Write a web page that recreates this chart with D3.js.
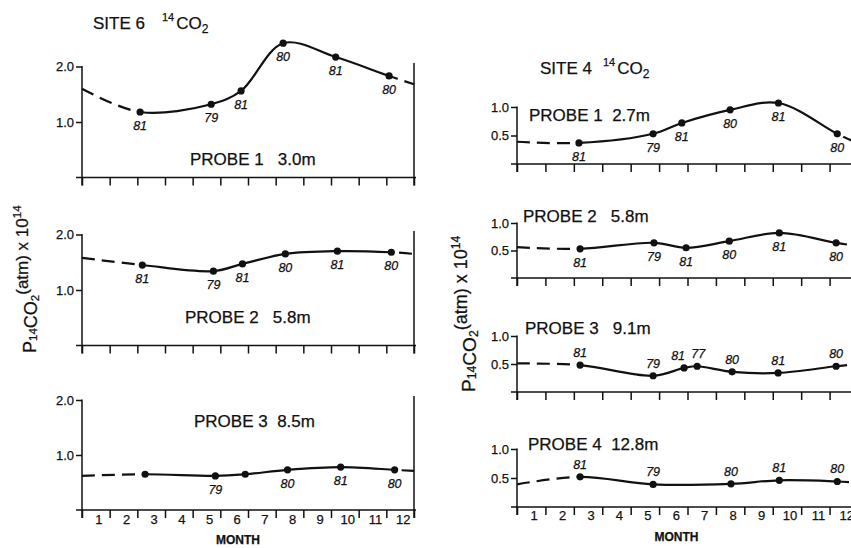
<!DOCTYPE html>
<html>
<head>
<meta charset="utf-8">
<script src="https://cdn.jsdelivr.net/npm/d3@7"></script>
<style>
  html, body { margin: 0; padding: 0; background: #fff; }
  svg { display: block; }
  text { font-family: "Liberation Sans", Arial, Helvetica, sans-serif; fill: #111; stroke: #111; stroke-width: 0.25px; }
</style>
</head>
<body>
<svg id="chart" width="851" height="548"></svg>
<script>
// ---------------- DATA ----------------
const months = ["1","2","3","4","5","6","7","8","9","10","11","12"];

// SITE 6 (month position, 0 = start of January, 12 = end of December)
const s6p1Month = [2.1, 4.67, 5.75, 7.27, 9.17, 11.1];
const s6p1Value = [1.18, 1.32, 1.56, 2.42, 2.17, 1.83];
const s6p1Year  = ["81", "79", "81", "80", "81", "80"];
const s6p1Ends  = [1.60, 1.68];

const s6p2Month = [2.18, 4.75, 5.8, 7.35, 9.23, 11.18];
const s6p2Value = [1.45, 1.34, 1.47, 1.65, 1.70, 1.68];
const s6p2Year  = ["81", "79", "81", "80", "81", "80"];
const s6p2Ends  = [1.58, 1.65];

const s6p3Month = [2.28, 4.82, 5.9, 7.43, 9.35, 11.3];
const s6p3Value = [0.65, 0.62, 0.65, 0.73, 0.78, 0.73];
const s6p3Year  = ["", "79", "", "80", "81", "80"];
const s6p3Ends  = [0.62, 0.71];

// SITE 4
const s4p1Month = [2.18, 4.79, 5.8, 7.5, 9.2, 11.27];
const s4p1Value = [0.37, 0.53, 0.72, 0.95, 1.07, 0.53];
const s4p1Year  = ["81", "79", "81", "80", "81", "80"];
const s4p1Ends  = [0.39, 0.36];

const s4p2Month = [2.22, 4.82, 5.95, 7.47, 9.23, 11.23];
const s4p2Value = [0.53, 0.64, 0.55, 0.67, 0.82, 0.64];
const s4p2Year  = ["81", "79", "81", "80", "81", "80"];
const s4p2Ends  = [0.56, 0.58];

const s4p3Month = [2.22, 4.79, 5.88, 6.34, 7.57, 9.19, 11.23];
const s4p3Value = [0.48, 0.29, 0.43, 0.46, 0.36, 0.34, 0.46];
const s4p3Year  = ["81", "79", "81", "77", "80", "81", "80"];
const s4p3Ends  = [0.51, 0.50];

const s4p4Month = [2.22, 4.79, 7.53, 9.23, 11.27];
const s4p4Value = [0.52, 0.39, 0.40, 0.46, 0.44];
const s4p4Year  = ["81", "79", "80", "81", "80"];
const s4p4Ends  = [0.39, 0.42];

const site6Ticks = [1.0, 2.0];
const site4Ticks = [0.5, 1.0];
const site6TickLabels = ["1.0", "2.0"];
const site4TickLabels = ["0.5", "1.0"];

const probeNames = {
  s6p1: "PROBE 1   3.0m", s6p2: "PROBE 2   5.8m", s6p3: "PROBE 3  8.5m",
  s4p1: "PROBE 1  2.7m", s4p2: "PROBE 2   5.8m", s4p3: "PROBE 3   9.1m", s4p4: "PROBE 4  12.8m"
};

// ---------------- LAYOUT ----------------
const svg = d3.select("#chart");
const defs = svg.append("defs");

const left  = { x0: 82, x1: 414, rightAxis: true };
const right = { x0: 517, x1: 858, rightAxis: false };

const panels = [
  { id: "s6p1", col: left, m: s6p1Month, v: s6p1Value, yr: s6p1Year, ends: s6p1Ends, ymax: 2, ticks: site6Ticks, tl: site6TickLabels,
    y0: 177.5, y1: 66.5, labPos: "below", probe: [190, 165], rTop: 63, months: false },
  { id: "s6p2", col: left, m: s6p2Month, v: s6p2Value, yr: s6p2Year, ends: s6p2Ends, ymax: 2, ticks: site6Ticks, tl: site6TickLabels,
    y0: 345.5, y1: 234.5, labPos: "below", probe: [185, 323], rTop: 231, months: false },
  { id: "s6p3", col: left, m: s6p3Month, v: s6p3Value, yr: s6p3Year, ends: s6p3Ends, ymax: 2, ticks: site6Ticks, tl: site6TickLabels,
    y0: 510, y1: 400, labPos: "below", probe: [194, 427], rTop: 396, months: true, monthY: 524, monthTitleY: 544 },
  { id: "s4p1", col: right, m: s4p1Month, v: s4p1Value, yr: s4p1Year, ends: s4p1Ends, ymax: 1, ticks: site4Ticks, tl: site4TickLabels,
    y0: 164, y1: 107, labPos: "below", probe: [529, 121], months: false },
  { id: "s4p2", col: right, m: s4p2Month, v: s4p2Value, yr: s4p2Year, ends: s4p2Ends, ymax: 1, ticks: site4Ticks, tl: site4TickLabels,
    y0: 278, y1: 223, labPos: "below", probe: [523, 222], months: false },
  { id: "s4p3", col: right, m: s4p3Month, v: s4p3Value, yr: s4p3Year, ends: s4p3Ends, ymax: 1, ticks: site4Ticks, tl: site4TickLabels,
    y0: 392, y1: 336, labPos: "above", probe: [525, 334], months: false },
  { id: "s4p4", col: right, m: s4p4Month, v: s4p4Value, yr: s4p4Year, ends: s4p4Ends, ymax: 1, ticks: site4Ticks, tl: site4TickLabels,
    y0: 507, y1: 449, labPos: "above", probe: [528, 450], months: true, monthY: 520, monthTitleY: 541 }
];

const INK = "#111";

panels.forEach(p => {
  const x = d3.scaleLinear().domain([0, 12]).range([p.col.x0, p.col.x1]);
  const y = d3.scaleLinear().domain([0, p.ymax]).range([p.y0, p.y1]);
  const g = svg.append("g");

  // baseline (x axis) with downward ticks
  const xAxis = d3.axisBottom(x).tickValues(d3.range(0, 13)).tickSize(8).tickFormat("");
  const xg = g.append("g").attr("transform", `translate(0,${p.y0})`).call(xAxis);
  xg.select(".domain").remove();
  xg.selectAll(".tick line").attr("stroke", INK).attr("stroke-width", 1.5);
  g.append("line").attr("x1", p.col.x0 - 6).attr("x2", p.col.x1 + 2)
    .attr("y1", p.y0).attr("y2", p.y0).attr("stroke", INK).attr("stroke-width", 1.5);

  // y axis
  const yAxis = d3.axisLeft(y).tickValues(p.ticks).tickSize(6).tickPadding(2)
    .tickFormat((d, i) => p.tl[i]);
  const yg = g.append("g").attr("transform", `translate(${p.col.x0},0)`).call(yAxis);
  yg.select(".domain").remove();
  yg.selectAll(".tick line").attr("stroke", INK).attr("stroke-width", 1.5);
  yg.selectAll(".tick text").attr("font-size", 13).attr("fill", INK)
    .attr("font-family", "Liberation Sans, Arial, sans-serif");
  g.append("line").attr("x1", p.col.x0).attr("x2", p.col.x0)
    .attr("y1", y(p.ymax) - 0.5).attr("y2", p.y0 + 8).attr("stroke", INK).attr("stroke-width", 1.5);

  if (p.col.rightAxis) {
    g.append("line").attr("x1", p.col.x1).attr("x2", p.col.x1)
      .attr("y1", p.rTop).attr("y2", p.y0 + 8).attr("stroke", INK).attr("stroke-width", 1.5);
  }

  // curve data: dashed lead-in, measured points, dashed lead-out
  const pts = [[0, p.ends[0]]].concat(p.m.map((t, i) => [t, p.v[i]])).concat([[12, p.ends[1]]]);
  const line = d3.line().x(d => x(d[0])).y(d => y(d[1])).curve(d3.curveCatmullRom.alpha(0.5));
  const d = line(pts);
  const xa = x(p.m[0]), xb = x(p.m[p.m.length - 1]);

  const cs = defs.append("clipPath").attr("id", "cs_" + p.id);
  cs.append("rect").attr("x", xa).attr("y", 0).attr("width", xb - xa).attr("height", 548);
  const cd = defs.append("clipPath").attr("id", "cd_" + p.id);
  cd.append("rect").attr("x", x(0) - 2).attr("y", 0).attr("width", xa - x(0) + 2).attr("height", 548);
  cd.append("rect").attr("x", xb).attr("y", 0).attr("width", x(12) - xb + 4).attr("height", 548);

  g.append("path").attr("d", d).attr("fill", "none").attr("stroke", INK).attr("stroke-width", 2.2)
    .attr("clip-path", `url(#cs_${p.id})`);
  g.append("path").attr("d", d).attr("fill", "none").attr("stroke", INK).attr("stroke-width", 2.2)
    .attr("stroke-dasharray", "13,7").attr("clip-path", `url(#cd_${p.id})`);

  // points
  g.selectAll("circle.pt").data(p.m).enter().append("circle")
    .attr("cx", (t) => x(t)).attr("cy", (t, i) => y(p.v[i])).attr("r", 3.6).attr("fill", INK);

  // year labels (shift apart labels that would collide)
  const lx = p.m.map(t => x(t));
  const shift = lx.map(() => 0);
  for (let i = 1; i < lx.length; i++) {
    if (p.yr[i] && p.yr[i - 1] && lx[i] - lx[i - 1] < 20) { shift[i - 1] -= 6; shift[i] += 1; }
  }
  g.selectAll("text.yr").data(p.m).enter().append("text")
    .attr("x", (t, i) => lx[i] + shift[i])
    .attr("y", (t, i) => y(p.v[i]) + (p.labPos === "below" ? 18 : -8))
    .attr("text-anchor", "middle").attr("font-size", 12.5).attr("font-style", "italic")
    .text((t, i) => p.yr[i]);

  // probe label
  g.append("text").attr("x", p.probe[0]).attr("y", p.probe[1]).attr("font-size", 17)
    .style("white-space", "pre").text(probeNames[p.id]);

  if (p.months) {
    g.selectAll("text.mo").data(months).enter().append("text")
      .attr("x", (m, i) => x(i + 0.5) + 3).attr("y", p.monthY)
      .attr("text-anchor", "middle").attr("font-size", 13).text(m => m);
    g.append("text").attr("x", (x(0) + x(12)) / 2 - (p.col.rightAxis ? 10 : 11)).attr("y", p.monthTitleY)
      .attr("text-anchor", "middle").attr("font-size", 12).attr("font-weight", 600).text("MONTH");
  }
});

// ---------------- TITLES ----------------
function siteTitle(xp, yp, site, gap) {
  const t = svg.append("text").attr("x", xp).attr("y", yp).attr("font-size", 17).style("white-space", "pre");
  t.append("tspan").text("SITE " + site);
  t.append("tspan").attr("font-size", 11).attr("dx", gap).attr("dy", -8).text("14");
  t.append("tspan").attr("dx", 2).attr("dy", 8).text("CO");
  t.append("tspan").attr("font-size", 12).attr("dy", 4).text("2");
}
siteTitle(93, 29, "6", 17);
siteTitle(540, 74, "4", 11);

function yTitle(xp, yp, k) {
  const t = svg.append("text").attr("transform", `translate(${xp},${yp}) rotate(-90)`).attr("font-size", 18 * k);
  t.append("tspan").text("P");
  t.append("tspan").attr("font-size", 11.5 * k).attr("dy", 1).text("14");
  t.append("tspan").attr("font-size", 18 * k).attr("dy", 0).text("CO");
  t.append("tspan").attr("font-size", 11.5 * k).attr("dy", 2).text("2");
  t.append("tspan").attr("font-size", 17 * k).attr("dy", -11).text("(atm) x 10");
  t.append("tspan").attr("font-size", 11.5 * k).attr("dy", -7).text("14");
}
yTitle(36, 353, 1);
yTitle(475, 392, 1.06);
</script>
</body>
</html>
